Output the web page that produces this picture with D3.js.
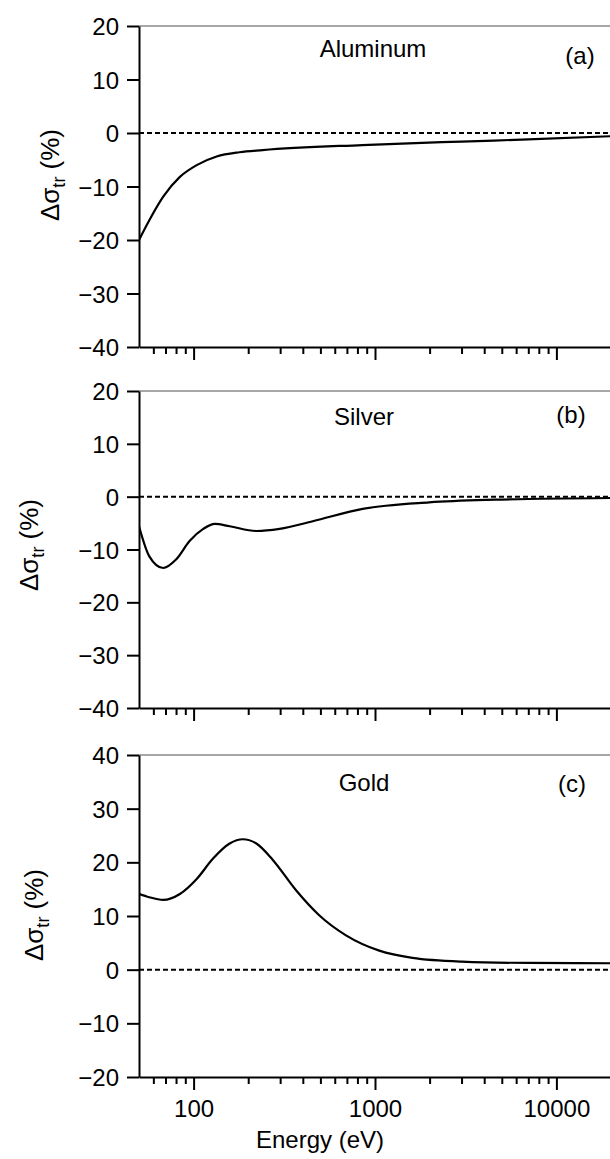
<!DOCTYPE html>
<html>
<head>
<meta charset="utf-8">
<script src="https://cdn.jsdelivr.net/npm/d3@7"></script>
<style>
  html, body { margin: 0; padding: 0; background: #fff; }
  svg { display: block; font-family: "Liberation Sans", Arial, sans-serif; }
</style>
</head>
<body>
<svg id="chart" width="610" height="1159"></svg>
<script>
// Relative change of the transport cross section versus electron energy
const aluminumEnergy = [50, 57, 68, 84, 104, 134, 179, 240, 850, 3000, 7000, 20000];
const aluminumDelta  = [-20, -16.3, -11.9, -8.2, -6.0, -4.4, -3.6, -3.2, -2.25, -1.6, -1.2, -0.6];

const silverEnergy = [50, 57, 68, 80, 95, 113, 131, 158, 222, 298, 454, 855, 1990, 4620, 20000];
const silverDelta  = [-5.6, -11.3, -13.5, -11.9, -8.4, -6.1, -5.15, -5.6, -6.5, -6.1, -4.65, -2.3, -1.07, -0.57, -0.25];

const goldEnergy = [50, 57, 68, 84, 104, 128, 158, 187, 222, 274, 367, 494, 692, 1055, 1607, 3015, 7030, 20000];
const goldDelta  = [14.15, 13.5, 13.0, 14.1, 16.9, 20.7, 23.5, 24.3, 23.5, 20.4, 14.8, 10.1, 6.4, 3.55, 2.2, 1.5, 1.25, 1.2];

const panelNames  = ["Aluminum", "Silver", "Gold"];
const panelTags   = ["(a)", "(b)", "(c)"];
const yTicksAgAl  = [-40, -30, -20, -10, 0, 10, 20];
const yTicksAu    = [-20, -10, 0, 10, 20, 30, 40];
const xMajorTicks = [100, 1000, 10000];
const xMinorTicks = [60, 70, 80, 90, 200, 300, 400, 500, 600, 700, 800, 900,
                     2000, 3000, 4000, 5000, 6000, 7000, 8000, 9000];
const xLabel = "Energy (eV)";

const svg = d3.select("#chart");
const left = 139, right = 611;
const FONT = "Liberation Sans, Arial, sans-serif";

const x = d3.scaleLog().domain([50, 20000]).range([left, right]);

const panels = [
  { energy: aluminumEnergy, delta: aluminumDelta, yDomain: [-40, 20], yTicks: yTicksAgAl,
    top: 26, bottom: 347, nameX: 373, nameY: 57, tagX: 580, tagY: 64, labelX: 52, labelY: 175, xLabels: false },
  { energy: silverEnergy, delta: silverDelta, yDomain: [-40, 20], yTicks: yTicksAgAl,
    top: 391, bottom: 708, nameX: 364, nameY: 425, tagX: 571, tagY: 423, labelX: 31, labelY: 545, xLabels: false },
  { energy: goldEnergy, delta: goldDelta, yDomain: [-20, 40], yTicks: yTicksAu,
    top: 755, bottom: 1077, nameX: 364, nameY: 791, tagX: 572, tagY: 792, labelX: 36, labelY: 915, xLabels: true }
];

panels.forEach((p, i) => {
  const y = d3.scaleLinear().domain(p.yDomain).range([p.bottom, p.top]);
  const g = svg.append("g");

  g.append("clipPath").attr("id", "clip" + i)
    .append("rect").attr("x", left).attr("y", p.top)
    .attr("width", right - left).attr("height", p.bottom - p.top);

  // thin frame line along the top of the panel
  g.append("line")
    .attr("x1", left).attr("x2", right)
    .attr("y1", y(p.yDomain[1])).attr("y2", y(p.yDomain[1]))
    .attr("stroke", "#8a8a8a").attr("stroke-width", 1.5);

  // zero reference line
  g.append("line")
    .attr("x1", left).attr("x2", right)
    .attr("y1", y(0)).attr("y2", y(0))
    .attr("stroke", "#000").attr("stroke-width", 2)
    .attr("stroke-dasharray", "5,3");

  // data curve
  const pts = p.energy.map((e, k) => [e, p.delta[k]]);
  g.append("path")
    .datum(pts)
    .attr("clip-path", `url(#clip${i})`)
    .attr("fill", "none")
    .attr("stroke", "#000")
    .attr("stroke-width", 2.2)
    .attr("d", d3.line().x(d => x(d[0])).y(d => y(d[1])).curve(d3.curveMonotoneX));

  // left axis
  const yAxis = g.append("g")
    .attr("transform", `translate(${left},0)`)
    .call(d3.axisLeft(y).tickValues(p.yTicks).tickSize(12).tickSizeOuter(0).tickPadding(8)
      .tickFormat(d3.format("d")));
  yAxis.selectAll("path, line").attr("stroke", "#000").attr("stroke-width", 2);
  yAxis.selectAll("text").attr("font-size", 24).attr("fill", "#000")
    .attr("font-family", FONT).attr("dy", "0.36em");

  // bottom axis: minor ticks
  const xMinor = g.append("g")
    .attr("transform", `translate(0,${p.bottom})`)
    .call(d3.axisBottom(x).tickValues(xMinorTicks).tickSize(7).tickSizeOuter(0).tickFormat(""));
  xMinor.selectAll("path, line").attr("stroke", "#000").attr("stroke-width", 2);

  // bottom axis: major ticks
  const xMajor = g.append("g")
    .attr("transform", `translate(0,${p.bottom})`)
    .call(d3.axisBottom(x).tickValues(xMajorTicks).tickSize(13).tickSizeOuter(0).tickPadding(10)
      .tickFormat(p.xLabels ? d3.format("d") : ""));
  xMajor.select("path").remove();
  xMajor.selectAll("line").attr("stroke", "#000").attr("stroke-width", 2);
  xMajor.selectAll("text").attr("font-size", 24).attr("fill", "#000")
    .attr("font-family", FONT);

  // metal name and panel tag
  g.append("text").attr("x", p.nameX).attr("y", p.nameY)
    .attr("text-anchor", "middle").attr("font-size", 24).text(panelNames[i]);
  g.append("text").attr("x", p.tagX).attr("y", p.tagY)
    .attr("text-anchor", "middle").attr("font-size", 24).text(panelTags[i]);

  // y-axis title: Δσ_tr (%)
  const t = g.append("text")
    .attr("transform", `translate(${p.labelX},${p.labelY}) rotate(-90)`)
    .attr("text-anchor", "middle").attr("dominant-baseline", "middle")
    .attr("font-size", 26);
  t.append("tspan").text("Δσ");
  t.append("tspan").attr("font-size", 18).attr("dy", 8).text("tr");
  t.append("tspan").attr("dy", -8).text("  (%)");

  if (p.xLabels) {
    g.append("text")
      .attr("x", 320).attr("y", 1148)
      .attr("text-anchor", "middle").attr("font-size", 24)
      .text(xLabel);
  }
});
</script>
</body>
</html>
